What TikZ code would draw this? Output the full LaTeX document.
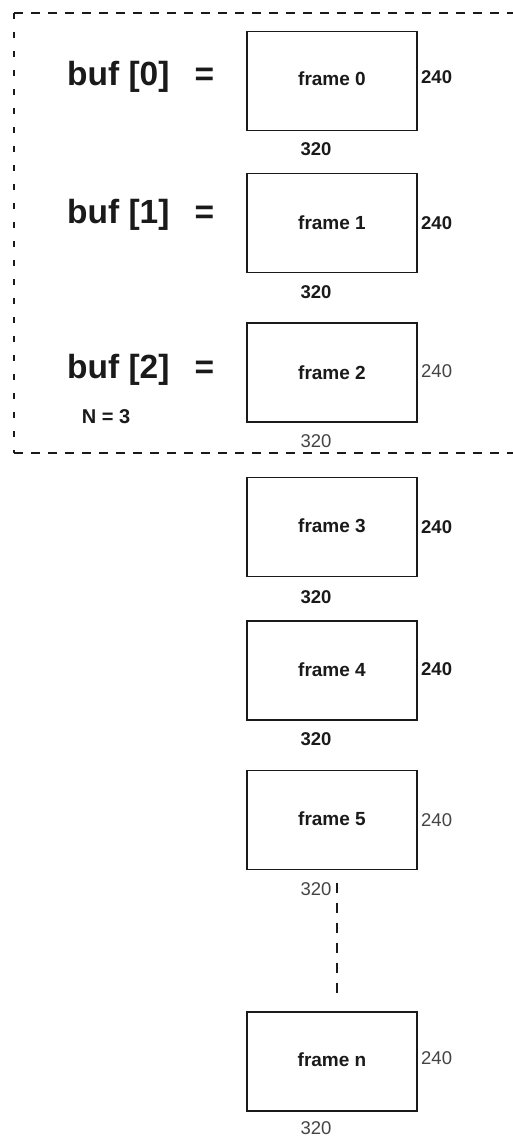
\documentclass[tikz,border=0pt]{standalone}
\usepackage{fontspec}
\setmainfont{Liberation Sans}
\definecolor{ink}{HTML}{1A1A1A}
\definecolor{greyink}{HTML}{444444}
\begin{document}
\begin{tikzpicture}[x=1pt,y=-1pt,
  framebox/.style={draw=ink,line width=1.3pt,minimum width=170pt,minimum height=99pt,inner sep=0pt,
    font=\fontsize{19}{22}\selectfont\bfseries,text=ink},
  dimbold/.style={font=\fontsize{18.5}{22}\selectfont\bfseries,text=ink,inner sep=0pt},
  dimthin/.style={font=\fontsize{18.5}{22}\selectfont,text=greyink,inner sep=0pt},
  buflabel/.style={font=\fontsize{33.5}{38}\selectfont\bfseries,text=ink,inner sep=0pt,anchor=west},
  hdash/.style={draw=ink,line width=1.2pt,dash pattern=on 9pt off 8pt},
  vdash/.style={draw=ink,line width=1.2pt,dash pattern=on 6pt off 13pt},
  gapdash/.style={draw=ink,line width=1.2pt,dash pattern=on 10pt off 10pt}]
\useasboundingbox[fill=white] (0,0) rectangle (512,1138);
% dashed group outline
\coordinate (tl) at (14,13);
\coordinate (tr) at (520,13);
\coordinate (bl) at (14,453);
\coordinate (br) at (520,453);
\draw[hdash] (tl) -- (tr);
\draw[hdash] (bl) -- (br);
\draw[vdash] (tl) -- (bl);
% frames
\node[framebox] (f0) at (332,81) {\raisebox{5pt}{frame 0}};
\node[framebox] (f1) at (332,223) {frame 1};
\node[framebox] (f2) at (332,372.5) {frame 2};
\node[framebox] (f3) at (332,527) {\raisebox{2pt}{frame 3}};
\node[framebox] (f4) at (332,670.5) {\raisebox{2pt}{frame 4}};
\node[framebox] (f5) at (332,820) {\raisebox{2pt}{frame 5}};
\node[framebox] (fn) at (332,1061.5) {\raisebox{4pt}{frame n}};
% buf labels
\node[buflabel] (b0) at (67,77) {buf [0]\hspace{0.75em}=};
\node[buflabel] (b1) at (67,215) {buf [1]\hspace{0.75em}=};
\node[buflabel] (b2) at (67,370) {buf [2]\hspace{0.75em}=};
\node[font=\fontsize{20}{24}\selectfont\bfseries,text=ink,inner sep=0pt] (nl) at (106,417) {N = 3};
% width labels 240
\node[dimbold,anchor=west] (h0) at (421,77) {240};
\node[dimbold,anchor=west] (h1) at (421,223) {240};
\node[dimthin,anchor=west] (h2) at (421,371) {240};
\node[dimbold,anchor=west] (h3) at (421,527) {240};
\node[dimbold,anchor=west] (h4) at (421,669) {240};
\node[dimthin,anchor=west] (h5) at (421,820) {240};
\node[dimthin,anchor=west] (hn) at (421,1058) {240};
% labels 320
\node[dimbold] (w0) at (316,149) {320};
\node[dimbold] (w1) at (316,292) {320};
\node[dimthin] (w2) at (316,441) {320};
\node[dimbold] (w3) at (316,597) {320};
\node[dimbold] (w4) at (316,739) {320};
\node[dimthin] (w5) at (316,889) {320};
\node[dimthin] (wn) at (316,1128) {320};
% continuation
\coordinate (d1) at (337,883);
\coordinate (d2) at (337,997);
\draw[gapdash] (d1) -- (d2);
\end{tikzpicture}
\end{document}
